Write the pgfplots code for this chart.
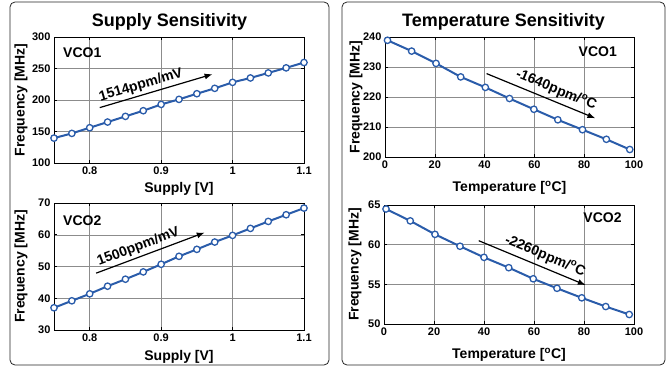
\documentclass[border=0pt]{standalone}
\usepackage{fontspec}
\setmainfont{Liberation Sans}
\usepackage{pgfplots}
\pgfplotsset{compat=1.18}
\usetikzlibrary{arrows.meta}
\definecolor{vblue}{HTML}{2A5CAA}

\pgfplotsset{
  vcoaxis/.style 2 args={
    scale only axis,
    anchor=north west,
    clip=false,
    axis line style={black, line width=0.8pt},
    grid=major,
    grid style={black!45, line width=0.5pt},
    tick align=inside,
    major tick length=3pt,
    tick style={black, line width=0.6pt},
    /pgf/number format/assume math mode=true,
    tick label style={font=\bfseries\fontsize{11}{12}\selectfont},
    label style={font=\bfseries\fontsize{14}{16}\selectfont},
    xlabel style={at={([yshift=-#1]axis description cs:0.5,0)}, anchor=base},
    ylabel style={at={([xshift=-#2]axis description cs:0,0.5)}, anchor=center},
    ylabel={Frequency [MHz]},
  },
  vcoplot/.style={vblue, line width=2pt, mark=*, mark size=3.2pt,
    mark options={fill=white, line width=1.3pt}},
}
\tikzset{
  annot/.style={font=\bfseries\fontsize{14}{16}\selectfont, black},
  arr/.style={-{Latex[length=8pt,width=6pt]}, line width=1.2pt, black},
}

\begin{document}
\begin{tikzpicture}[x=1pt,y=1pt]
\useasboundingbox (0,0) rectangle (667,-367);
\draw[rounded corners=5pt, line width=0.8pt, black!85] (10,-2) rectangle (329,-365);
\draw[rounded corners=5pt, line width=0.8pt, black!85] (342,-2) rectangle (665,-365);
\node[anchor=base, font=\bfseries\fontsize{18}{20}\selectfont] at (169.5,-26) {Supply Sensitivity};
\node[anchor=base, font=\bfseries\fontsize{18}{20}\selectfont] at (503.5,-26) {Temperature Sensitivity};

% Top-left
\begin{axis}[vcoaxis={29.5pt}{33pt}, at={(54pt,-37pt)}, width=250pt, height=126pt,
  xmin=0.75, xmax=1.1, ymin=100, ymax=300,
  xtick={0.8,0.9,1,1.1}, ytick={100,150,...,300},
  xlabel={Supply [V]}]
\addplot[vcoplot] coordinates {
 (0.75,139.5) (0.775,147) (0.8,156) (0.825,165) (0.85,174) (0.875,183)
 (0.9,193) (0.925,201) (0.95,210) (0.975,218.5) (1.0,228) (1.025,235)
 (1.05,243) (1.075,251) (1.1,259.5)};
\draw[arr] (axis cs:0.814,187.9) -- node[annot, sloped, above, pos=0.39, inner sep=2.5pt] {1514ppm/mV} (axis cs:0.972,241);
\node[annot, anchor=north west, inner sep=0pt] at (rel axis cs:0.036,0.92) {VCO1};
\end{axis}

% Bottom-left
\begin{axis}[vcoaxis={30pt}{33pt}, at={(54pt,-203pt)}, width=250pt, height=127pt,
  xmin=0.75, xmax=1.1, ymin=30, ymax=70,
  xtick={0.8,0.9,1,1.1}, ytick={30,40,...,70},
  xlabel={Supply [V]}]
\addplot[vcoplot] coordinates {
 (0.75,37.0) (0.775,39.2) (0.8,41.4) (0.825,43.8) (0.85,46.0) (0.875,48.3)
 (0.9,50.7) (0.925,53.2) (0.95,55.4) (0.975,57.7) (1.0,59.8) (1.025,62.0)
 (1.05,64.2) (1.075,66.3) (1.1,68.4)};
\draw[arr] (axis cs:0.809,47.9) -- node[annot, sloped, above, pos=0.42, inner sep=2.5pt] {1500ppm/mV} (axis cs:0.961,60.7);
\node[annot, anchor=north west, inner sep=0pt] at (rel axis cs:0.036,0.905) {VCO2};
\end{axis}

% Top-right
\begin{axis}[vcoaxis={34.5pt}{29pt}, at={(385pt,-37pt)}, width=249pt, height=120pt,
  xmin=0, xmax=100, ymin=200, ymax=240,
  xtick={0,20,...,100}, ytick={200,210,...,240},
  xlabel={Temperature [\textsuperscript{o}C]}]
\addplot[vcoplot] coordinates {
 (1,238.9) (10.7,235.3) (20.5,231.2) (30.4,226.7) (40.3,223.2) (50,219.5)
 (59.8,215.9) (69.4,212.4) (79.3,209.1) (88.9,205.9) (98.3,202.5)};
\draw[arr] (axis cs:40.8,227.8) -- node[annot, sloped, above, pos=0.6, inner sep=4pt] {-1640ppm/\textsuperscript{o}C} (axis cs:84.5,212.9);
\node[annot, anchor=north east, inner sep=0pt] at (rel axis cs:0.932,0.917) {VCO1};
\end{axis}

% Bottom-right
\begin{axis}[vcoaxis={34.5pt}{29pt}, at={(384pt,-205pt)}, width=250pt, height=119pt,
  xmin=0, xmax=100, ymin=50, ymax=65,
  xtick={0,20,...,100}, ytick={50,55,60,65},
  xlabel={Temperature [\textsuperscript{o}C]}]
\addplot[vcoplot] coordinates {
 (0.8,64.5) (10.5,63.0) (20.4,61.3) (30.4,59.8) (40.0,58.4) (49.9,57.1)
 (59.7,55.7) (69.2,54.5) (79.1,53.3) (88.7,52.2) (98.1,51.2)};
\draw[arr] (axis cs:37.9,60.5) -- node[annot, sloped, above, pos=0.58, inner sep=4pt] {-2260ppm/\textsuperscript{o}C} (axis cs:80.7,54.9);
\node[annot, anchor=north east, inner sep=0pt] at (rel axis cs:0.951,0.935) {VCO2};
\end{axis}
\end{tikzpicture}
\end{document}
